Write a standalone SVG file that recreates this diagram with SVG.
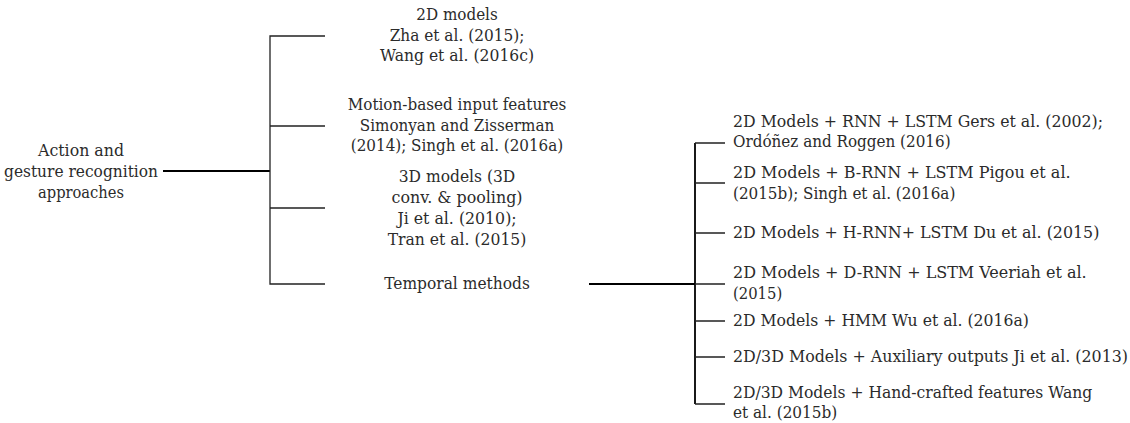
<svg xmlns="http://www.w3.org/2000/svg" width="1130" height="423" viewBox="0 0 1130 423">
<style>
.t{font-family:'DejaVu Serif','Liberation Serif',serif;font-size:16px;fill:#2b2b2b}
.c{text-anchor:middle}
.main{stroke:#000;stroke-width:1.8;fill:none}
.br{stroke:#222;stroke-width:1.3;fill:none}
</style>
<rect width="1130" height="423" fill="#fff"/>
<g id="connectors">
<path class="main" d="M163 171H270"/>
<path class="br" d="M325 36H270V284H325"/>
<path class="br" d="M270 126H325M270 208H325"/>
<path class="main" d="M589 284H695"/>
<path class="main" d="M695 143V404"/>
<path class="br" d="M725 143H695M695 404H725M695 183H725M695 233H725M695 284H725M695 321H725M695 357H725"/>
</g>
<g class="t">
<g id="root"><text class="c" x="81" y="156" textLength="86" lengthAdjust="spacingAndGlyphs">Action and</text><text class="c" x="81" y="177" textLength="154" lengthAdjust="spacingAndGlyphs">gesture recognition</text><text class="c" x="81" y="197.5" textLength="86" lengthAdjust="spacingAndGlyphs">approaches</text></g>
<g id="n2d"><text class="c" x="457" y="20" textLength="81.5" lengthAdjust="spacingAndGlyphs">2D models</text><text class="c" x="457" y="40.5" textLength="134.7" lengthAdjust="spacingAndGlyphs">Zha et al. (2015);</text><text class="c" x="457" y="61" textLength="154" lengthAdjust="spacingAndGlyphs">Wang et al. (2016c)</text></g>
<g id="motion"><text class="c" x="457" y="110" textLength="218.6" lengthAdjust="spacingAndGlyphs">Motion-based input features</text><text class="c" x="457" y="130.5" textLength="194.5" lengthAdjust="spacingAndGlyphs">Simonyan and Zisserman</text><text class="c" x="457" y="151" textLength="212.4" lengthAdjust="spacingAndGlyphs">(2014); Singh et al. (2016a)</text></g>
<g id="n3d"><text class="c" x="457" y="182" textLength="116.6" lengthAdjust="spacingAndGlyphs">3D models (3D</text><text class="c" x="457" y="203" textLength="131" lengthAdjust="spacingAndGlyphs">conv. &amp; pooling)</text><text class="c" x="457" y="224" textLength="119.2" lengthAdjust="spacingAndGlyphs">Ji et al. (2010);</text><text class="c" x="457" y="245" textLength="138.7" lengthAdjust="spacingAndGlyphs">Tran et al. (2015)</text></g>
<g id="temporal"><text class="c" x="457" y="288.5" textLength="145.7" lengthAdjust="spacingAndGlyphs">Temporal methods</text></g>
<g id="rnn"><text x="733" y="126.5" textLength="370" lengthAdjust="spacingAndGlyphs">2D Models + RNN + LSTM Gers et al. (2002);</text><text x="733" y="147" textLength="217.6" lengthAdjust="spacingAndGlyphs">Ordóñez and Roggen (2016)</text></g>
<g id="brnn"><text x="733" y="177.5" textLength="337.6" lengthAdjust="spacingAndGlyphs">2D Models + B-RNN + LSTM Pigou et al.</text><text x="733" y="198.5" textLength="222.3" lengthAdjust="spacingAndGlyphs">(2015b); Singh et al. (2016a)</text></g>
<g id="hrnn"><text x="733" y="238" textLength="366.4" lengthAdjust="spacingAndGlyphs">2D Models + H-RNN+ LSTM Du et al. (2015)</text></g>
<g id="drnn"><text x="733" y="277.5" textLength="353.6" lengthAdjust="spacingAndGlyphs">2D Models + D-RNN + LSTM Veeriah et al.</text><text x="733" y="298.5" textLength="49.2" lengthAdjust="spacingAndGlyphs">(2015)</text></g>
<g id="hmm"><text x="733" y="326" textLength="295.9" lengthAdjust="spacingAndGlyphs">2D Models + HMM Wu et al. (2016a)</text></g>
<g id="aux"><text x="733" y="362" textLength="395" lengthAdjust="spacingAndGlyphs">2D/3D Models + Auxiliary outputs Ji et al. (2013)</text></g>
<g id="hand"><text x="733" y="397.5" textLength="359.2" lengthAdjust="spacingAndGlyphs">2D/3D Models + Hand-crafted features Wang</text><text x="733" y="418" textLength="104.2" lengthAdjust="spacingAndGlyphs">et al. (2015b)</text></g>
</g>
</svg>
